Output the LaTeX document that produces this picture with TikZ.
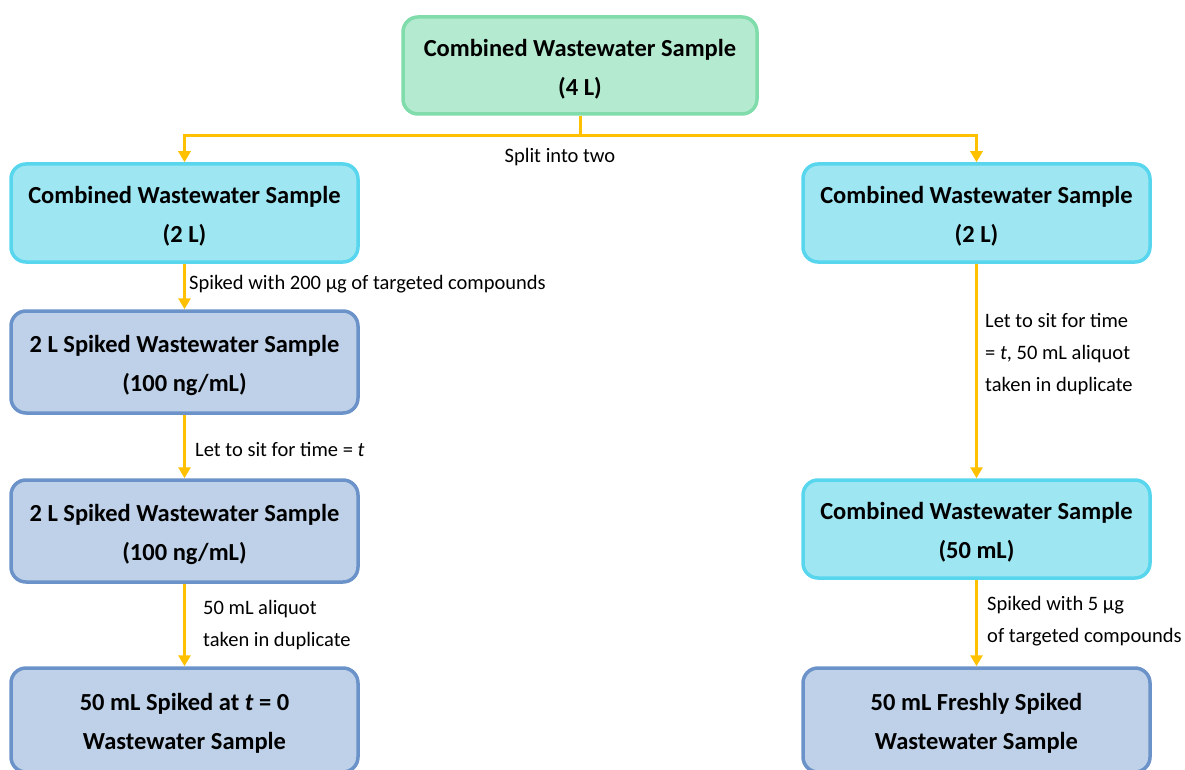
\documentclass[tikz,border=0pt]{standalone}
\usepackage{fontspec}
\setmainfont{Carlito}
\usetikzlibrary{arrows.meta}
\definecolor{goldline}{HTML}{FFC000}
\definecolor{greenfill}{HTML}{B4EBD0}
\definecolor{greenedge}{HTML}{80DCAA}
\definecolor{cyanfill}{HTML}{9EE6F2}
\definecolor{cyanedge}{HTML}{58D6EE}
\definecolor{bluefill}{HTML}{BED1E8}
\definecolor{blueedge}{HTML}{6B93C9}
% strut that lowers the two-line box text a little
\newcommand{\boxstrut}{\rule{0pt}{24pt}}
\tikzset{
  box/.style={rectangle, rounded corners=15pt, line width=3.5pt, align=center,
    minimum width=347pt, inner sep=0pt,
    font=\fontsize{24.5}{39}\selectfont\bfseries},
  topbox/.style={box, fill=greenfill, draw=greenedge, minimum width=354pt},
  cyanbox/.style={box, fill=cyanfill, draw=cyanedge},
  bluebox/.style={box, fill=bluefill, draw=blueedge},
  link/.style={draw=goldline, line width=3pt},
  arrow/.style={link, -{Triangle[width=12pt,length=11pt]}},
  note/.style={anchor=west, inner sep=0pt, align=left,
    font=\fontsize{20.5}{32}\selectfont}
}
\begin{document}
\begin{tikzpicture}[x=1pt,y=-1pt]
\useasboundingbox (0,0) rectangle (1185,770);
\clip (0,0) rectangle (1185,770);

% sample boxes
\node[topbox, minimum height=97pt] (top) at (580,65.5) {\boxstrut Combined Wastewater Sample\\(4 L)};

\node[cyanbox, minimum height=98pt] (l1) at (184.5,213) {\boxstrut Combined Wastewater Sample\\(2 L)};
\node[bluebox, minimum height=102pt] (l2) at (184.5,362) {\boxstrut 2 L Spiked Wastewater Sample\\(100 ng/mL)};
\node[bluebox, minimum height=102pt] (l3) at (184.5,531) {\boxstrut 2 L Spiked Wastewater Sample\\(100 ng/mL)};
\node[bluebox, minimum height=104pt] (l4) at (184.5,720) {\boxstrut 50 mL Spiked at \textit{t} = 0\\Wastewater Sample};

\node[cyanbox, minimum height=98pt] (r1) at (976.5,213) {\boxstrut Combined Wastewater Sample\\(2 L)};
\node[cyanbox, minimum height=98pt] (r2) at (976.5,529) {\boxstrut Combined Wastewater Sample\\(50 mL)};
\node[bluebox, minimum height=104pt] (r3) at (976.5,720) {\boxstrut 50 mL Freshly Spiked\\Wastewater Sample};

% split into two branches
\coordinate (sp) at (580,136);
\draw[link] (top.south) -- (sp);
\draw[arrow] (sp) -| (l1.north);
\draw[arrow] (sp) -| (r1.north);
\node[note, anchor=center] (splitlbl) at (560,157) {Split into two};

% left branch
\draw[arrow] (l1.south) -- (l2.north);
\node[note] (n1) at (189,284) {Spiked with 200 µg of targeted compounds};
\draw[arrow] (l2.south) -- (l3.north);
\node[note] (n2) at (195,449) {Let to sit for time = \textit{t}};
\draw[arrow] (l3.south) -- (l4.north);
\node[note] (n3) at (203,625) {50 mL aliquot\\taken in duplicate};

% right branch
\draw[arrow] (r1.south) -- (r2.north);
\node[note] (n4) at (985,354) {Let to sit for time\\= \textit{t}, 50 mL aliquot\\taken in duplicate};
\draw[arrow] (r2.south) -- (r3.north);
\node[note] (n5) at (987,621.5) {Spiked with 5 µg\\of targeted compounds};
\end{tikzpicture}
\end{document}
